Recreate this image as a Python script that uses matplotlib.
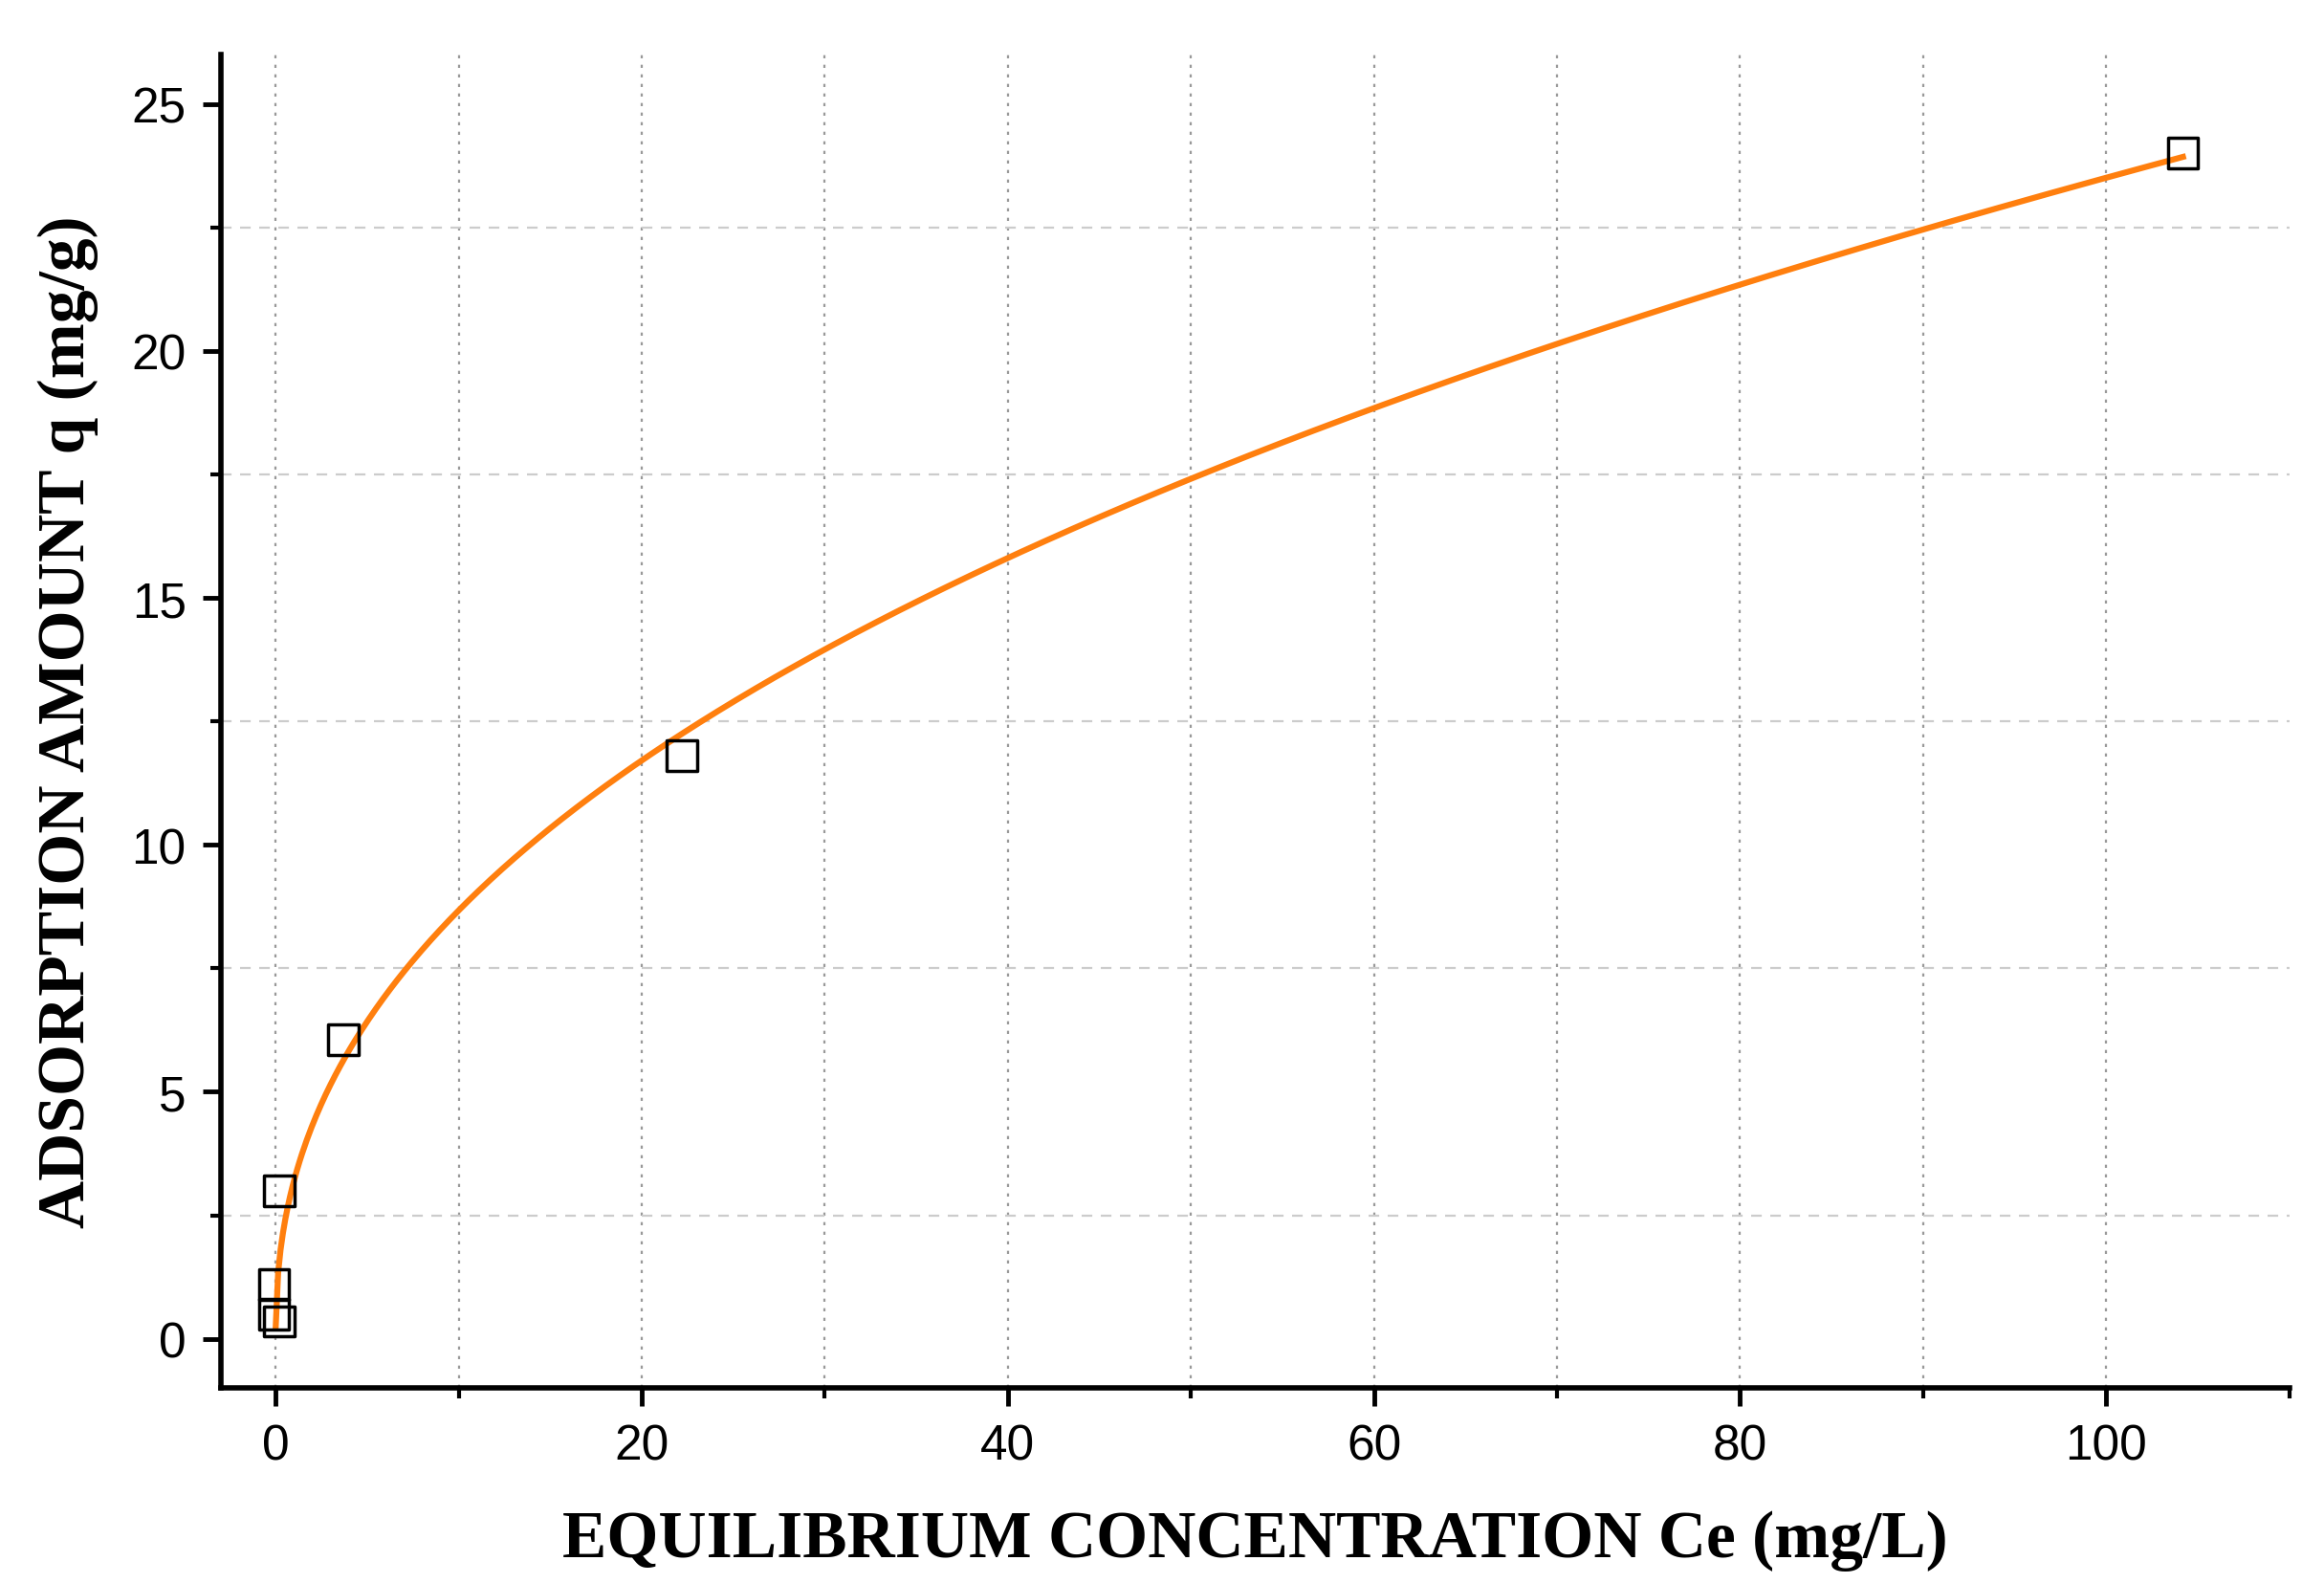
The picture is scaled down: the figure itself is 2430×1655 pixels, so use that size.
import numpy as np
import matplotlib.pyplot as plt
from matplotlib.ticker import MultipleLocator

ce = [104.2, 22.2, 3.7, 0.2, -0.1, -0.1, 0.2]
qe = [24.0, 11.8, 6.05, 3.0, 1.1, 0.5, 0.35]
K_f = 3.2
inv_n = 0.433

fig = plt.figure(figsize=(24.3, 16.56), dpi=100)
ax = fig.add_axes([0.095, 0.123, 0.89, 0.842])
xf = np.linspace(0.003, 104.2, 800)
ax.plot(xf, K_f * xf**inv_n, color='#ff7f0e', lw=4.5, zorder=3)
ax.scatter(ce, qe, marker='s', s=520, facecolors='none', edgecolors='black', linewidths=2.5, zorder=4)

ax.set_xlim(-3, 110)
ax.set_ylim(-1, 26)
ax.xaxis.set_major_locator(MultipleLocator(20))
ax.xaxis.set_minor_locator(MultipleLocator(10))
ax.yaxis.set_major_locator(MultipleLocator(5))
ax.yaxis.set_minor_locator(MultipleLocator(2.5))
for v in np.arange(0, 110, 10):
    ax.axvline(v, color='#999999', ls=(0, (1.5, 3)), lw=1.6, zorder=1)
for v in np.arange(2.5, 26, 5):
    ax.axhline(v, color='#cccccc', ls=(0, (5, 4)), lw=1.6, zorder=1)
for s in ['top', 'right']:
    ax.spines[s].set_visible(False)
for s in ['left', 'bottom']:
    ax.spines[s].set_linewidth(4)
ax.tick_params(which='major', direction='out', length=14, width=3.5, labelsize=37, pad=12)
ax.tick_params(which='minor', direction='out', length=8, width=3)
for lab in ax.get_xticklabels() + ax.get_yticklabels():
    lab.set_family('Liberation Sans')
ax.set_xlabel('EQUILIBRIUM CONCENTRATION Ce (mg/L)', fontsize=50, fontweight='bold',
              family='Liberation Serif', labelpad=30)
ax.set_ylabel('ADSORPTION AMOUNT q (mg/g)', fontsize=50, fontweight='bold',
              family='Liberation Serif', labelpad=25)
fig.savefig('out.png', dpi=100)
